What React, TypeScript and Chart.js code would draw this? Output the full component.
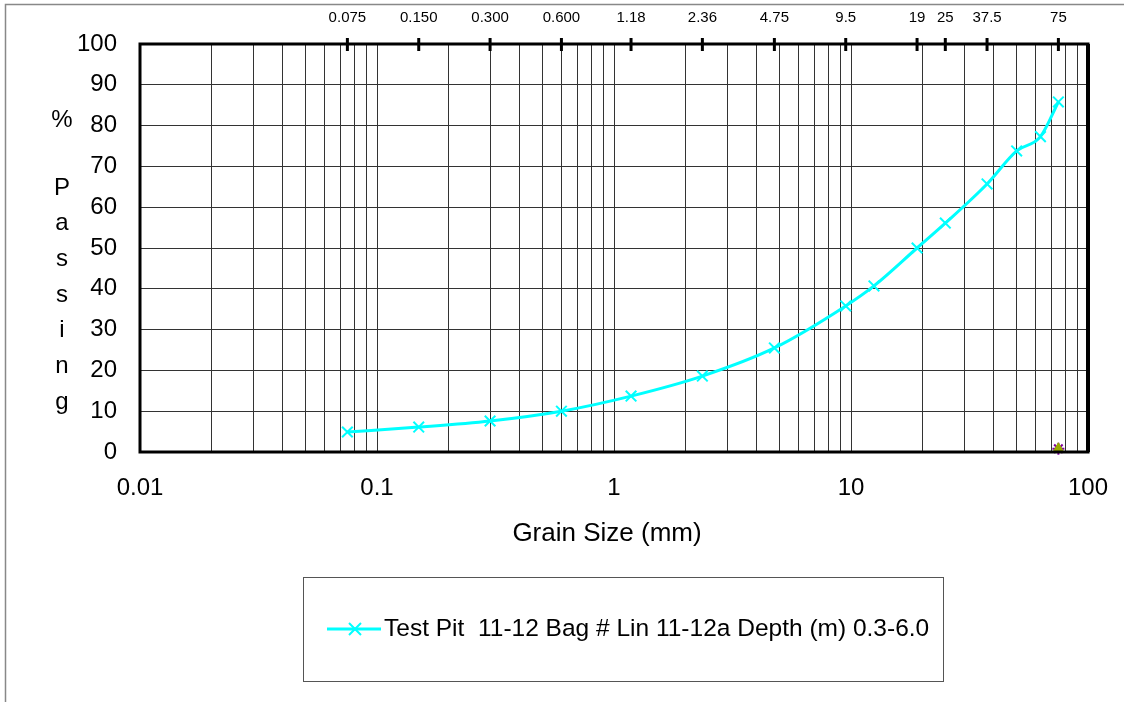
import React, { useEffect, useRef } from "react";
import { Chart, registerables } from "chart.js";

Chart.register(...registerables);

// ---- data ----
const seriesLabel = "Test Pit  11-12 Bag # Lin 11-12a Depth (m) 0.3-6.0";
const grainSizes = [0.075, 0.15, 0.3, 0.6, 1.18, 2.36, 4.75, 9.5, 12.5, 19, 25, 37.5, 50, 63, 75];
const percentPassing = [4.9, 6.1, 7.6, 10.0, 13.7, 18.6, 25.5, 35.8, 40.7, 50.0, 56.1, 65.7, 73.8, 77.3, 85.8];
const extraMarkerX = [75];
const extraMarkerY = [0.8];
const sieveValues = [0.075, 0.15, 0.3, 0.6, 1.18, 2.36, 4.75, 9.5, 19, 25, 37.5, 75];
const sieveLabels = ["0.075", "0.150", "0.300", "0.600", "1.18", "2.36", "4.75", "9.5", "19", "25", "37.5", "75"];
const yTitleLetters = ["P", "a", "s", "s", "i", "n", "g"];
const xTitle = "Grain Size (mm)";

const FONT = "'Liberation Sans', Arial, sans-serif";

export default function App() {
  const ref = useRef<HTMLCanvasElement>(null);

  useEffect(() => {
    document.body.style.margin = "0";
    document.body.style.overflow = "hidden";
    const canvas = ref.current!;

    const decorPlugin = {
      id: "decor",
      afterDraw(chart: any) {
        const ctx = chart.ctx as CanvasRenderingContext2D;
        const { left, right, top, bottom } = chart.chartArea;
        const xTop = chart.scales.xTop;
        ctx.save();
        // frame
        ctx.strokeStyle = "#888";
        ctx.lineWidth = 1.5;
        ctx.beginPath();
        ctx.moveTo(5.5, 702);
        ctx.lineTo(5.5, 4.5);
        ctx.lineTo(1124, 4.5);
        ctx.stroke();
        // plot border
        ctx.strokeStyle = "#000";
        ctx.lineWidth = 3;
        ctx.strokeRect(left, top, right - left, bottom - top);
        ctx.lineWidth = 4;
        ctx.beginPath();
        ctx.moveTo(right, top);
        ctx.lineTo(right, bottom);
        ctx.stroke();
        // top sieve ticks crossing the border
        ctx.lineWidth = 3;
        sieveValues.forEach((v) => {
          const x = xTop.getPixelForValue(v);
          ctx.beginPath();
          ctx.moveTo(x, top - 6);
          ctx.lineTo(x, top + 7);
          ctx.stroke();
        });
        // y title
        ctx.fillStyle = "#000";
        ctx.textAlign = "center";
        ctx.textBaseline = "middle";
        ctx.font = `24px ${FONT}`;
        ctx.fillText("%", 62, 120);
        yTitleLetters.forEach((ch, i) => {
          ctx.fillText(ch, 62, 188 + i * 35.7);
        });
        // x title
        ctx.font = `26px ${FONT}`;
        ctx.fillText(xTitle, (left + right) / 2 - 7, 534);
        // legend
        const lx = 303, ly = 577, lw = 640, lh = 104;
        ctx.strokeStyle = "#555";
        ctx.lineWidth = 1;
        ctx.strokeRect(lx + 0.5, ly + 0.5, lw, lh);
        const cy = 629;
        ctx.strokeStyle = "#00FFFF";
        ctx.lineWidth = 3;
        ctx.beginPath();
        ctx.moveTo(327, cy);
        ctx.lineTo(381, cy);
        ctx.stroke();
        ctx.lineWidth = 2;
        ctx.beginPath();
        ctx.moveTo(349, cy - 6);
        ctx.lineTo(361, cy + 6);
        ctx.moveTo(361, cy - 6);
        ctx.lineTo(349, cy + 6);
        ctx.stroke();
        ctx.fillStyle = "#000";
        ctx.textAlign = "left";
        ctx.font = `24.5px ${FONT}`;
        ctx.fillText(seriesLabel, 384, cy);
        ctx.restore();
      },
    };

    const logTicks = (min: number, max: number) => {
      const out: { value: number }[] = [];
      for (let e = Math.round(Math.log10(min)); e < Math.round(Math.log10(max)); e++) {
        for (let s = 1; s <= 9; s++) {
          out.push({ value: parseFloat((s * Math.pow(10, e)).toPrecision(6)) });
        }
      }
      out.push({ value: max });
      return out;
    };

    const chart = new Chart(canvas, {
      type: "line",
      data: {
        datasets: [
          {
            label: seriesLabel,
            data: grainSizes.map((x, i) => ({ x, y: percentPassing[i] })),
            borderColor: "#00FFFF",
            backgroundColor: "#00FFFF",
            borderWidth: 3,
            pointStyle: "crossRot",
            pointRadius: 7.5,
            pointBorderWidth: 2,
            cubicInterpolationMode: "monotone",
            xAxisID: "x",
            yAxisID: "y",
          },
          {
            label: "t",
            data: extraMarkerX.map((x, i) => ({ x, y: extraMarkerY[i] })),
            showLine: false,
            pointStyle: "triangle",
            pointRadius: 6,
            borderColor: "#99AA00",
            backgroundColor: "#99AA00",
            borderWidth: 1,
            xAxisID: "x",
            yAxisID: "y",
          },
          {
            label: "s",
            data: extraMarkerX.map((x, i) => ({ x, y: extraMarkerY[i] })),
            showLine: false,
            pointStyle: "star",
            pointRadius: 6,
            borderColor: "#8000A0",
            backgroundColor: "#8000A0",
            borderWidth: 2,
            xAxisID: "x",
            yAxisID: "y",
          },
        ],
      },
      options: {
        responsive: false,
        animation: false,
        clip: false as any,
        layout: { padding: { left: 0, right: 36, top: 0, bottom: 0 } },
        plugins: { legend: { display: false }, tooltip: { enabled: false } },
        scales: {
          x: {
            type: "logarithmic",
            position: "bottom",
            min: 0.01,
            max: 100,
            afterBuildTicks: (scale: any) => {
              scale.ticks = logTicks(0.01, 100);
            },
            afterFit: (scale: any) => {
              scale.height = 250;
              scale.paddingLeft = 0;
              scale.paddingRight = 0;
            },
            grid: { color: "#333", lineWidth: 1, drawTicks: false },
            border: { display: false },
            ticks: {
              autoSkip: false,
              maxRotation: 0,
              padding: 22,
              color: "#000",
              font: { family: FONT, size: 24 },
              callback: (v: any) => {
                const l = Math.log10(Number(v));
                return Math.abs(l - Math.round(l)) < 1e-9 ? String(Number(v)) : "";
              },
            },
          },
          xTop: {
            type: "logarithmic",
            position: "top",
            min: 0.01,
            max: 100,
            afterBuildTicks: (scale: any) => {
              scale.ticks = sieveValues.map((value) => ({ value }));
            },
            afterFit: (scale: any) => {
              scale.height = 44;
              scale.paddingLeft = 0;
              scale.paddingRight = 0;
            },
            grid: { drawOnChartArea: false, drawTicks: false },
            border: { display: false },
            ticks: {
              autoSkip: false,
              maxRotation: 0,
              padding: 17,
              color: "#000",
              font: { family: FONT, size: 15 },
              callback: (v: any) => {
                const i = sieveValues.indexOf(Number(v));
                return i >= 0 ? sieveLabels[i] : "";
              },
            },
          },
          y: {
            type: "linear",
            min: 0,
            max: 100,
            afterFit: (scale: any) => {
              scale.width = 140;
            },
            grid: { color: "#333", lineWidth: 1, drawTicks: false },
            border: { display: false },
            ticks: {
              stepSize: 10,
              padding: 23,
              color: "#000",
              font: { family: FONT, size: 24 },
            },
          },
        },
      },
      plugins: [decorPlugin],
    } as any);

    return () => chart.destroy();
  }, []);

  return (
    <div style={{ width: 1124, height: 702, background: "#fff" }}>
      <canvas ref={ref} width={1124} height={702} style={{ display: "block" }} />
    </div>
  );
}
